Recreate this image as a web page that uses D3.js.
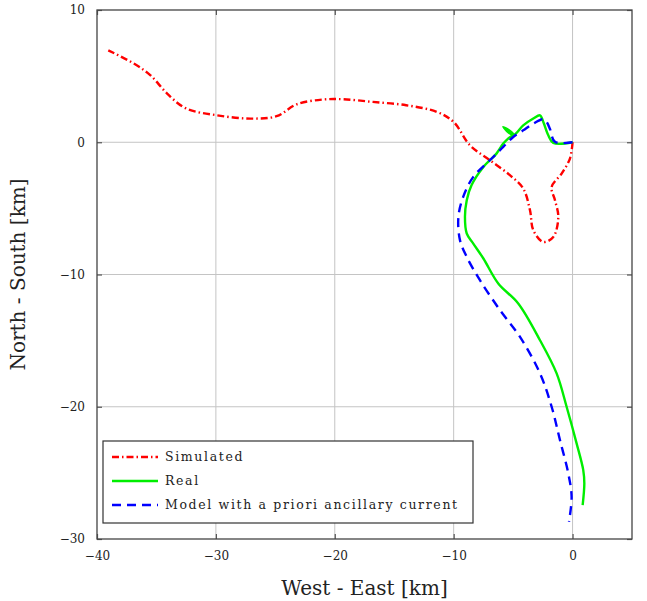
<!DOCTYPE html>
<html>
<head>
<meta charset="utf-8">
<script src="https://cdn.jsdelivr.net/npm/d3@7"></script>
<style>
  body { margin: 0; background: #fff; }
  text { font-family: "DejaVu Serif", "Liberation Serif", serif; fill: #222; }
</style>
</head>
<body>
<div class="my_dataviz"></div>
<script>
// x = West - East [km], y = North - South [km]
const simulatedX = [0, -0.22, -0.92, -1.76, -1.48, -1.2, -1.62, -2.46, -3.3, -3.58, -4.15, -5.27, -6.95, -8.63, -10.0, -11.4, -14.0, -16.8, -19.3, -21.0, -23.2, -24.9, -27.1, -29.9, -32.5, -34.1, -35.5, -36.9, -39.05]
const simulatedY = [0, -1.23, -2.37, -3.38, -4.38, -5.64, -7.16, -7.54, -6.65, -5.14, -3.5, -2.49, -1.36, -0.23, 1.53, 2.29, 2.8, 3.05, 3.25, 3.23, 2.87, 1.97, 1.79, 2.04, 2.55, 3.68, 5.06, 5.95, 6.95]

const realX = [0, -1.62, -2.04, -2.46, -2.74, -3.3, -4.15, -4.99, -5.83, -4.99, -5.4, -5.83, -6.4, -7.5, -8.5, -8.9, -9.05, -8.9, -8.35, -7.5, -6.25, -4.57, -2.74, -1.34, -0.5, 0.34, 0.9, 0.99, 0.85]
const realY = [0, -0.05, 0.53, 1.53, 2.04, 1.79, 1.28, 0.55, 1.16, 0.6, 0.3, -0.1, -0.86, -1.87, -3.25, -4.38, -5.64, -6.9, -7.66, -8.79, -10.68, -12.19, -14.97, -17.48, -20.0, -22.77, -24.79, -25.8, -27.44]

const modelX = [0, -1.48, -1.9, -2.18, -2.46, -3.3, -4.15, -4.99, -5.83, -6.8, -8.35, -9.2, -9.6, -9.47, -8.9, -7.79, -6.1, -4.42, -2.74, -1.76, -1.06, -0.36, -0.08, -0.3]
const modelY = [0, 0.03, 1.0, 1.53, 1.74, 1.41, 0.9, 0.4, -0.35, -1.23, -2.62, -4.13, -5.64, -7.4, -8.67, -10.43, -12.7, -14.72, -17.48, -20.0, -22.52, -25.04, -26.8, -28.7]

const xTicks = [-40, -30, -20, -10, 0]
const yTicks = [-30, -20, -10, 0, 10]
const seriesNames = ["Simulated", "Real", "Model with a priori ancillary current"]

let margin = {top: 10, right: 15, bottom: 62, left: 97},
    width = 647 - margin.left - margin.right,
    height = 601 - margin.top - margin.bottom

let svg = d3.select(".my_dataviz")
            .append("svg")
            .attr("width", 647)
            .attr("height", 601)
            .append("g")
            .attr("transform", "translate(" + margin.left + "," + margin.top + ")")

let x = d3.scaleLinear().domain([-40, 5]).range([0, width])
let y = d3.scaleLinear().domain([-30, 10]).range([height, 0])

// grid
svg.append("g").selectAll("line").data(xTicks.slice(1)).enter().append("line")
   .attr("x1", d => x(d)).attr("x2", d => x(d)).attr("y1", 0).attr("y2", height)
   .attr("stroke", "#c4c4c4").attr("stroke-width", 1)
svg.append("g").selectAll("line").data(yTicks.slice(1, -1)).enter().append("line")
   .attr("y1", d => y(d)).attr("y2", d => y(d)).attr("x1", 0).attr("x2", width)
   .attr("stroke", "#c4c4c4").attr("stroke-width", 1)

// axes with inward ticks on all sides
const fmt = d => d3.format("")(d).replace("-", "\u2212 ")
function styleAxis(g) {
    g.select(".domain").remove()
    g.selectAll(".tick line").attr("stroke", "#555").attr("stroke-width", 1.2)
    g.selectAll(".tick text").style("font-size", "12px").attr("fill", "#222")
}
svg.append("g").attr("transform", "translate(0," + height + ")")
   .call(d3.axisBottom(x).tickValues(xTicks).tickSizeInner(-5).tickSizeOuter(0).tickPadding(12).tickFormat(fmt))
   .call(styleAxis)
svg.append("g")
   .call(d3.axisTop(x).tickValues(xTicks).tickSizeInner(-5).tickSizeOuter(0).tickFormat(""))
   .call(styleAxis)
svg.append("g")
   .call(d3.axisLeft(y).tickValues(yTicks).tickSizeInner(-5).tickSizeOuter(0).tickPadding(12).tickFormat(fmt))
   .call(styleAxis)
svg.append("g").attr("transform", "translate(" + width + ",0)")
   .call(d3.axisRight(y).tickValues(yTicks).tickSizeInner(-5).tickSizeOuter(0).tickFormat(""))
   .call(styleAxis)

svg.append("rect").attr("width", width).attr("height", height)
   .attr("fill", "none").attr("stroke", "#444").attr("stroke-width", 1.3)

// curves
const line = d3.line().x(d => x(d[0])).y(d => y(d[1])).curve(d3.curveCatmullRom.alpha(0.5))
const series = [
    {xs: simulatedX, ys: simulatedY, color: "#ff0000", dash: "7,3,1.5,3"},
    {xs: realX, ys: realY, color: "#00ee00", dash: null},
    {xs: modelX, ys: modelY, color: "#0000ff", dash: "9,6"}
]
series.forEach(s => {
    svg.append("path")
       .datum(s.xs.map((v, i) => [v, s.ys[i]]))
       .attr("d", line)
       .attr("fill", "none")
       .attr("stroke", s.color)
       .attr("stroke-width", 2.4)
       .attr("stroke-dasharray", s.dash)
})

// legend
let legend = svg.append("g").attr("transform", "translate(6,431)")
legend.append("rect").attr("width", 370).attr("height", 82)
      .attr("fill", "#fff").attr("stroke", "#333").attr("stroke-width", 1.2)
series.forEach((s, i) => {
    let ly = 16 + i * 24
    legend.append("line").attr("x1", 9).attr("x2", 55).attr("y1", ly).attr("y2", ly)
          .attr("stroke", s.color).attr("stroke-width", 2.4).attr("stroke-dasharray", s.dash)
    legend.append("text").attr("x", 62).attr("y", ly + 4)
          .style("font-size", "12.5px").style("letter-spacing", "1.65px")
          .text(seriesNames[i])
})

// axis labels
svg.append("text").attr("x", x(-17.5)).attr("y", height + 56)
   .attr("text-anchor", "middle").style("font-size", "20px")
   .text("West - East [km]")
svg.append("text").attr("transform", "translate(-72," + (height / 2) + ") rotate(-90)")
   .attr("text-anchor", "middle").style("font-size", "20px")
   .text("North - South [km]")
</script>
</body>
</html>
